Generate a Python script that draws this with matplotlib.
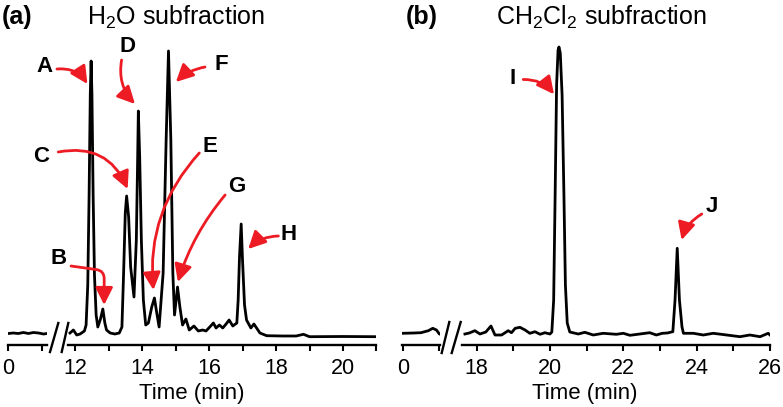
import matplotlib
matplotlib.use("Agg")
import matplotlib.pyplot as plt
from matplotlib.lines import Line2D
from matplotlib.ticker import MultipleLocator, FixedLocator

plt.rcParams["font.family"] = ["Liberation Sans", "DejaVu Sans"]
plt.rcParams["mathtext.default"] = "regular"

# ---------------------------------------------------------
# DATA (intensity in arbitrary units)
# ---------------------------------------------------------
# (a) H2O subfraction, short segment before the axis break
time_a_start = [0.0, 0.15, 0.3, 0.45, 0.6, 0.75, 0.9, 1.05, 1.15]
signal_a_start = [11.5, 12.0, 11.5, 12.5, 11.5, 12.5, 12.0, 11.0, 11.5]

# (a) main segment
time_a = [11.85, 11.95, 12.05, 12.15, 12.28, 12.33, 12.38, 12.42, 12.455, 12.48,
          12.505, 12.54, 12.58, 12.63, 12.68, 12.76, 12.83, 12.89, 12.94, 13.05,
          13.19, 13.32, 13.40, 13.45, 13.50, 13.54, 13.60, 13.66, 13.76, 13.83,
          13.87, 13.89, 13.93, 13.98, 14.04, 14.11, 14.19, 14.29, 14.37, 14.44,
          14.51, 14.63, 14.72, 14.79, 14.86, 14.92, 14.97, 15.06, 15.13, 15.21,
          15.31, 15.41, 15.55, 15.68, 15.81, 15.91, 16.05, 16.13, 16.21, 16.31,
          16.41, 16.51, 16.60, 16.71, 16.83, 16.87, 16.91, 16.96, 17.00, 17.06,
          17.12, 17.25, 17.34, 17.52, 17.72, 18.2, 18.6, 18.82, 19.0, 20.0, 21.0]
signal_a = [12, 15, 10, 11, 14, 20, 60, 150, 250, 284,
            250, 150, 70, 30, 18, 26, 36, 22, 15, 12,
            11, 12, 18, 72, 132, 149, 128, 78, 48, 105,
            188, 234, 188, 105, 45, 20, 22, 38, 47, 32,
            18, 72, 205, 294, 205, 72, 30, 58, 38, 20,
            26, 15, 19, 14, 15, 14, 19, 22, 17, 20,
            17, 21, 25, 19, 22, 45, 88, 121, 85, 40,
            25, 17, 21, 12, 9.3, 9, 9, 10.7, 8.3, 8.5, 8.3]

# (b) CH2Cl2 subfraction, short segment before the axis break
time_b_start = [0.0, 0.3, 0.5, 0.7, 0.82, 0.92, 1.0, 1.05]
signal_b_start = [11.7, 12.0, 12.3, 14.3, 16.7, 15.0, 11.0, 10.5]

# (b) main segment
time_b = [17.68, 17.8, 17.95, 18.09, 18.25, 18.39, 18.5, 18.68, 18.86, 18.95,
          19.05, 19.18, 19.32, 19.45, 19.59, 19.73, 19.86, 20.0, 20.05, 20.1,
          20.14, 20.18, 20.22, 20.245, 20.28, 20.33, 20.38, 20.42, 20.47, 20.54,
          20.62, 20.77, 20.95, 21.18, 21.45, 21.81, 22.0, 22.18, 22.45, 22.72,
          22.9, 23.06, 23.2, 23.35, 23.41, 23.47, 23.53, 23.6, 23.64, 23.91,
          24.18, 24.45, 24.82, 25.18, 25.45, 25.73, 25.95, 26.0]
signal_b = [11, 12, 14.3, 11, 13, 19, 10, 10, 14.3, 12.3,
            16.7, 17.7, 15, 11.7, 13.3, 10.7, 12.3, 11, 13, 45,
            150, 260, 295, 298, 292, 250, 150, 60, 22, 13,
            12.3, 11, 12.7, 10, 11.7, 10.7, 11.7, 9.7, 11, 12.3,
            10, 11.7, 12, 13.3, 45, 96.7, 45, 18, 11.7, 11.7,
            10, 11.7, 10, 8.3, 10, 8.3, 11.7, 10]

# peak labels: label position, arrow start, arrow tip, curvature
labels_a = ["A", "B", "C", "D", "E", "F", "G", "H"]
label_pos_a = [(11.10, 279), (11.50, 87), (11.00, 188), (13.58, 298),
               (16.03, 198), (16.38, 280), (16.83, 158), (18.37, 110)]
arrow_from_a = [(11.46, 276), (11.88, 79), (11.50, 193), (13.39, 285),
                (15.71, 192), (15.88, 278), (16.48, 150), (18.07, 109)]
arrow_to_a = [(12.37, 261), (12.87, 40), (13.57, 156), (13.79, 241),
              (14.34, 55), (15.01, 263), (15.07, 63), (17.17, 96)]
arrow_style_a = ["arc3,rad=-0.3", "angle,angleA=-8,angleB=90,rad=8",
                 "arc3,rad=-0.4", "arc3,rad=0.25", "arc3,rad=0.22",
                 "arc3,rad=0.15", "arc3,rad=0.1", "arc3,rad=0.2"]

labels_b = ["I", "J"]
label_pos_b = [(18.99, 267), (24.42, 139)]
arrow_from_b = [(19.27, 265.5), (24.14, 131)]
arrow_to_b = [(20.11, 250.7), (23.59, 105)]
arrow_style_b = ["arc3,rad=-0.25", "arc3,rad=0.2"]

RED = "#ed1c24"
W, H = 783, 407
Y_AXIS, Y_TOP = 345, 30


def px_rect(x0, x1):
    return [x0 / W, 1 - Y_AXIS / H, (x1 - x0) / W, (Y_AXIS - Y_TOP) / H]


def style_axis(ax, xlim):
    ax.set_xlim(*xlim)
    ax.set_ylim(0, Y_AXIS - Y_TOP)
    for side in ["top", "right", "left"]:
        ax.spines[side].set_visible(False)
    ax.spines["bottom"].set_linewidth(1.7)
    ax.set_yticks([])
    ax.patch.set_alpha(0)
    ax.tick_params(axis="x", which="both", direction="out", length=4,
                   width=1.5, labelsize=15.5, pad=5)


def draw_break(fig, x_pairs):
    for xb, xt, yb, yt in x_pairs:
        fig.add_artist(Line2D([xb / W, xt / W], [1 - yb / H, 1 - yt / H],
                              transform=fig.transFigure, color="black", lw=1.7))


def add_labels(ax, names, pos, start, end, styles):
    for name, p, s, e, cs in zip(names, pos, start, end, styles):
        ax.text(p[0], p[1], name, ha="center", va="center", fontsize=16,
                fontweight="bold", clip_on=False)
        ax.annotate("", xy=e, xytext=s, annotation_clip=False,
                    arrowprops=dict(arrowstyle="-|>,head_length=0.7,head_width=0.35",
                                    connectionstyle=cs, color=RED, lw=2.0,
                                    shrinkA=0, shrinkB=0, mutation_scale=15))


fig = plt.figure(figsize=(W / 100, H / 100), dpi=100)

# ---------------- panel (a) ----------------
ax_a0 = fig.add_axes(px_rect(7.6, 47.2))
ax_a = fig.add_axes(px_rect(68, 376.5))
style_axis(ax_a0, (-0.02, 1.16))
style_axis(ax_a, (11.79, 21.0))
ax_a0.plot(time_a_start, signal_a_start, color="black", lw=2.0)
ax_a.plot(time_a, signal_a, color="black", lw=2.0, solid_joinstyle="round")
ax_a0.xaxis.set_major_locator(FixedLocator([0, 1]))
ax_a0.set_xticklabels(["0", ""])
ax_a.xaxis.set_major_locator(MultipleLocator(2))
ax_a.xaxis.set_minor_locator(MultipleLocator(1))
add_labels(ax_a, labels_a, label_pos_a, arrow_from_a, arrow_to_a, arrow_style_a)

# ---------------- panel (b) ----------------
ax_b0 = fig.add_axes(px_rect(401.6, 440.1))
ax_b = fig.add_axes(px_rect(462, 770))
style_axis(ax_b0, (-0.03, 1.02))
style_axis(ax_b, (17.6, 26.0))
ax_b0.plot(time_b_start, signal_b_start, color="black", lw=2.0)
ax_b.plot(time_b, signal_b, color="black", lw=2.0, solid_joinstyle="round")
ax_b0.xaxis.set_major_locator(FixedLocator([0, 1]))
ax_b0.set_xticklabels(["0", ""])
ax_b.xaxis.set_major_locator(MultipleLocator(2))
ax_b.xaxis.set_minor_locator(MultipleLocator(1))
add_labels(ax_b, labels_b, label_pos_b, arrow_from_b, arrow_to_b, arrow_style_b)

# axis-break marks
draw_break(fig, [(50, 58.3, 352, 323), (61.7, 68.3, 352, 323),
                 (441.7, 449.3, 353, 322), (451.7, 460.7, 353, 322)])

# titles and axis labels
fig.text(17 / W, 1 - 17 / H, "(a)", ha="center", va="center", fontsize=18, fontweight="bold")
fig.text(176 / W, 1 - 17 / H, "H$_2$O subfraction", ha="center", va="center", fontsize=18)
fig.text(422 / W, 1 - 17 / H, "(b)", ha="center", va="center", fontsize=18, fontweight="bold")
fig.text(601 / W, 1 - 17 / H, "CH$_2$Cl$_2$ subfraction", ha="center", va="center", fontsize=18)
fig.text(192 / W, 1 - 393 / H, "Time (min)", ha="center", va="center", fontsize=16)
fig.text(585 / W, 1 - 393 / H, "Time (min)", ha="center", va="center", fontsize=16)

fig.savefig("out.png", dpi=100)
